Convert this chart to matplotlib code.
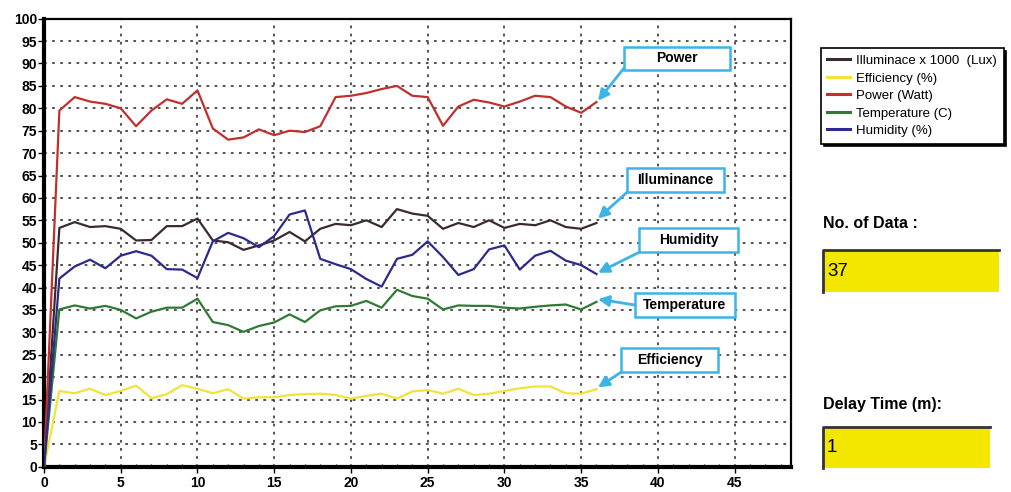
import matplotlib
matplotlib.use('Agg')
import matplotlib.pyplot as plt
from matplotlib.patches import Rectangle
from matplotlib.lines import Line2D
import numpy as np

plt.rcParams['font.family'] = ['Liberation Sans', 'DejaVu Sans']

# data (x = sample number 0..36)
samples = np.arange(37)
illuminance = [0, 53.3, 54.6, 53.5, 53.7, 53.1, 50.5, 50.6, 53.7, 53.7, 55.4, 50.5, 50.1, 48.4,
               49.4, 50.5, 52.4, 50.3, 53.1, 54.2, 53.9, 55.0, 53.5, 57.5, 56.5, 56.0, 53.1, 54.4,
               53.5, 55.0, 53.3, 54.2, 53.9, 55.0, 53.5, 53.1, 54.4]
efficiency = [0, 16.9, 16.4, 17.4, 16.0, 16.9, 18.1, 15.3, 16.2, 18.2, 17.4, 16.4, 17.3, 15.2,
              15.5, 15.5, 16.0, 16.2, 16.3, 16.0, 15.2, 15.8, 16.3, 15.2, 16.8, 17.1, 16.3, 17.4,
              16.0, 16.3, 16.9, 17.5, 17.9, 17.9, 16.4, 16.3, 17.3]
power = [0, 79.5, 82.5, 81.5, 81.0, 80.0, 76.0, 79.5, 82.0, 81.0, 84.0, 75.5, 73.0, 73.5,
         75.3, 74.0, 75.0, 74.7, 76.0, 82.5, 82.8, 83.4, 84.3, 85.0, 82.8, 82.5, 76.1, 80.4,
         81.9, 81.3, 80.4, 81.5, 82.8, 82.5, 80.4, 79.0, 81.4]
temperature = [0, 35.1, 36.0, 35.3, 35.9, 35.0, 33.1, 34.6, 35.5, 35.5, 37.5, 32.3, 31.6, 30.1,
               31.4, 32.2, 34.0, 32.3, 34.9, 35.8, 35.9, 37.0, 35.5, 39.5, 38.1, 37.5, 35.1, 36.0,
               35.9, 35.9, 35.5, 35.3, 35.7, 36.0, 36.2, 35.1, 36.8]
humidity = [0, 42.0, 44.7, 46.2, 44.3, 47.1, 48.1, 47.1, 44.1, 44.0, 42.1, 50.3, 52.2, 51.0,
            49.0, 51.5, 56.3, 57.2, 46.4, 45.2, 44.1, 41.9, 40.2, 46.4, 47.3, 50.3, 46.8, 42.8,
            44.1, 48.5, 49.4, 44.0, 47.1, 48.2, 46.0, 45.0, 43.0]

labels = ['Illuminace x 1000  (Lux)', 'Efficiency (%)', 'Power (Watt)',
          'Temperature (C)', 'Humidity (%)']
colors = ['#3b2b2e', '#f2e23a', '#c0302e', '#2f7a34', '#2c2a8a']
n_data = '37'
delay_time = '1'

fig = plt.figure(figsize=(10.12, 4.92), dpi=100)
ax = fig.add_axes([0.0435, 0.0514, 0.7385, 0.9106])

series = [illuminance, efficiency, power, temperature, humidity]
for vals, lab, col in zip(series, labels, colors):
    ax.plot(samples, vals, color=col, lw=1.6, label=lab, zorder=3)

ax.set_xlim(0, 48.7)
ax.set_ylim(0, 100)
ax.set_xticks(np.arange(0, 50, 5))
ax.set_yticks(np.arange(0, 101, 5))
ax.set_xticks(np.arange(0, 49, 1), minor=True)
ax.grid(True, which='major', color='#444444', ls=(0, (1.5, 3)), lw=1.3)
ax.tick_params(axis='y', which='major', length=4, width=1, labelsize=10, pad=1)
ax.tick_params(axis='x', which='major', length=4, width=1, labelsize=10, pad=3)
ax.tick_params(which='minor', length=2.5, width=0.8, direction='in')
for lab in ax.get_xticklabels() + ax.get_yticklabels():
    lab.set_fontweight('bold')
ax.spines['left'].set_linewidth(3)
ax.spines['bottom'].set_linewidth(3)
ax.spines['top'].set_linewidth(1.6)
ax.spines['right'].set_linewidth(1.6)

# callout boxes: (text, box x0, x1, y0, y1, arrow start, target series, target offset)
blue = '#3cb4e6'
callouts = [
    ('Power', 37.8, 44.7, 88.6, 93.7, (37.8, 89.0), power, 0.3),
    ('Illuminance', 38.0, 44.3, 61.3, 66.7, (38.0, 61.3), illuminance, 1.0),
    ('Humidity', 38.8, 45.2, 47.9, 53.3, (38.8, 47.9), humidity, 0.3),
    ('Temperature', 38.5, 45.0, 33.4, 38.8, (38.5, 36.1), temperature, 0.6),
    ('Efficiency', 37.6, 43.9, 21.1, 26.5, (37.6, 21.1), efficiency, 0.4),
]
for txt, x0, x1, y0, y1, start, vals, off in callouts:
    ax.add_patch(Rectangle((x0, y0), x1 - x0, y1 - y0, facecolor='white',
                           edgecolor=blue, lw=1.8, zorder=5))
    ax.text((x0 + x1) / 2, (y0 + y1) / 2, txt, ha='center', va='center',
            fontsize=10, fontweight='bold', zorder=6)
    ax.annotate('', xy=(samples[-1] + 0.1, vals[-1] + off), xytext=start,
                arrowprops=dict(arrowstyle='-|>', color=blue, lw=2,
                                mutation_scale=16, shrinkA=0, shrinkB=0), zorder=5)

leg = fig.legend(loc='upper left', bbox_to_anchor=(0.811, 0.902), borderaxespad=0,
                 fontsize=9.5, frameon=True, fancybox=False, edgecolor='black',
                 handlelength=1.7, labelspacing=0.4, borderpad=0.5, handletextpad=0.5,
                 shadow={'color': 'black', 'alpha': 1})
leg.get_frame().set_linewidth(1.2)
for h in leg.get_lines():
    h.set_linewidth(2.2)

# info panels on the right
def info_box(label, value, ytext, ybox0, ybox1, xbox1):
    fig.text(823 / 1012, 1 - ytext / 492, label, fontsize=11.5, fontweight='bold',
             va='center', ha='left')
    x0 = 823 / 1012
    y0 = 1 - ybox1 / 492
    w = (xbox1 - 823) / 1012
    h = (ybox1 - ybox0) / 492
    fig.patches.append(Rectangle((x0, y0), w, h, transform=fig.transFigure,
                                 facecolor='#f3e700', edgecolor='none'))
    fig.lines.append(Line2D([x0, x0, x0 + w], [y0, y0 + h, y0 + h],
                            transform=fig.transFigure, color='#333333', lw=2))
    fig.text(x0 + 4 / 1012, y0 + h / 2, value, fontsize=13.5, va='center', ha='left')

info_box('No. of Data :', n_data, 223, 250, 292, 999)
info_box('Delay Time (m):', delay_time, 405, 427, 468, 990)

fig.savefig('out.png', dpi=100)
